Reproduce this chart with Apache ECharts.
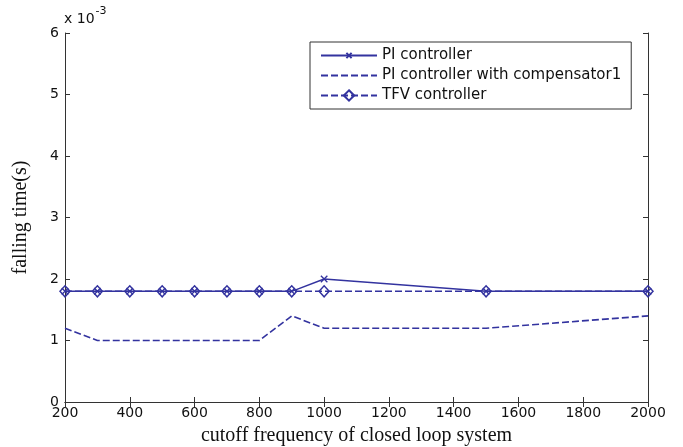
<!DOCTYPE html>
<html>
<head>
<meta charset="utf-8">
<script src="https://cdn.jsdelivr.net/npm/echarts@6/dist/echarts.min.js"></script>
<style>html,body{margin:0;padding:0;background:#fff;}#c{width:683px;height:447px;}</style>
</head>
<body>
<div id="c"></div>
<script>
// Data (falling time in units of 1e-3 s)
const freq = [200, 300, 400, 500, 600, 700, 800, 900, 1000, 1500, 2000];
const piController = [1.8, 1.8, 1.8, 1.8, 1.8, 1.8, 1.8, 1.8, 2.0, 1.8, 1.8];
const piCompensator = [1.2, 1.0, 1.0, 1.0, 1.0, 1.0, 1.0, 1.4, 1.2, 1.2, 1.4];
const tfvController = [1.8, 1.8, 1.8, 1.8, 1.8, 1.8, 1.8, 1.8, 1.8, 1.8, 1.8];
const seriesNames = ['PI controller', 'PI controller with compensator1', 'TFV controller'];
const xTitle = 'cutoff frequency of closed loop system';
const yTitle = 'falling time(s)';

const pair = (xs, ys) => xs.map((x, i) => [x, ys[i]]);
const C = '#33339f';
const axisCol = '#333';
const tickFont = { fontFamily: 'DejaVu Sans', fontSize: 14, color: '#111' };
const hidden = { color: 'rgba(0,0,0,0)', borderColor: 'rgba(0,0,0,0)', borderWidth: 0 };

const chart = echarts.init(document.getElementById('c'), null, { renderer: 'canvas' });
chart.setOption({
  animation: false,
  backgroundColor: '#fff',
  grid: { left: 65, right: 35, top: 33, bottom: 45, containLabel: false, outerBoundsMode: 'none' },
  xAxis: [{
    type: 'value', min: 200, max: 2000, interval: 200, position: 'bottom',
    axisLine: { show: true, lineStyle: { color: axisCol, width: 1 } },
    axisTick: { show: true, inside: true, length: 5, lineStyle: { color: axisCol } },
    axisLabel: Object.assign({ margin: 4, formatter: v => String(v) }, tickFont),
    splitLine: { show: false },
    name: xTitle, nameLocation: 'middle', nameGap: 24,
    nameTextStyle: { fontFamily: 'Liberation Serif', fontSize: 20, color: '#111' }
  }, {
    type: 'value', min: 200, max: 2000, interval: 200, position: 'top',
    axisLine: { show: true, lineStyle: { color: axisCol, width: 1 } },
    axisTick: { show: true, inside: true, length: 5, lineStyle: { color: axisCol } },
    axisLabel: { show: false }, splitLine: { show: false }
  }],
  yAxis: [{
    type: 'value', min: 0, max: 6, interval: 1, position: 'left',
    axisLine: { show: true, lineStyle: { color: axisCol, width: 1 } },
    axisTick: { show: true, inside: true, length: 5, lineStyle: { color: axisCol } },
    axisLabel: Object.assign({ margin: 6 }, tickFont),
    splitLine: { show: false },
    name: yTitle, nameLocation: 'middle', nameGap: 34, nameRotate: 90,
    nameTextStyle: { fontFamily: 'Liberation Serif', fontSize: 20, color: '#111' }
  }, {
    type: 'value', min: 0, max: 6, interval: 1, position: 'right',
    axisLine: { show: true, lineStyle: { color: axisCol, width: 1 } },
    axisTick: { show: true, inside: true, length: 5, lineStyle: { color: axisCol } },
    axisLabel: { show: false }, splitLine: { show: false }
  }],
  legend: {
    orient: 'vertical', left: 310, top: 42,
    padding: [6, 10, 6, 10], itemGap: 5, itemWidth: 56, itemHeight: 13,
    backgroundColor: '#fff', borderColor: '#333', borderWidth: 1,
    textStyle: { fontFamily: 'DejaVu Sans', fontSize: 15, color: '#111', lineHeight: 14 },
    data: [
      { name: seriesNames[0] },
      { name: seriesNames[1], itemStyle: hidden },
      { name: seriesNames[2] }
    ]
  },
  graphic: [{
    type: 'text', left: 64, top: 6,
    style: {
      text: '{a|x 10}{b|-3}',
      rich: {
        a: { fontFamily: 'DejaVu Sans', fontSize: 14, fill: '#111', verticalAlign: 'bottom', lineHeight: 20 },
        b: { fontFamily: 'DejaVu Sans', fontSize: 11, fill: '#111', verticalAlign: 'top', lineHeight: 11, padding: [0, 0, 9, 1] }
      }
    }
  }],
  series: [{
    name: seriesNames[0], type: 'line', data: pair(freq, piController),
    symbol: 'path://M-5,-5M15,15M0,0L10,10M10,0L0,10', symbolSize: 13,
    itemStyle: { color: 'rgba(0,0,0,0)', borderColor: C, borderWidth: 1.3 },
    lineStyle: { color: C, width: 1.4, type: 'solid' }, z: 2
  }, {
    name: seriesNames[1], type: 'line', data: pair(freq, piCompensator),
    symbol: 'none', itemStyle: { color: C },
    lineStyle: { color: C, width: 1.6, type: [7, 3] }, z: 2
  }, {
    name: seriesNames[2], type: 'line', data: pair(freq, tfvController),
    symbol: 'diamond', symbolSize: [10, 11],
    itemStyle: { color: 'rgba(0,0,0,0)', borderColor: C, borderWidth: 1.5 },
    lineStyle: { color: C, width: 1.4, type: [7, 3] }, z: 3
  }]
});
</script>
</body>
</html>
